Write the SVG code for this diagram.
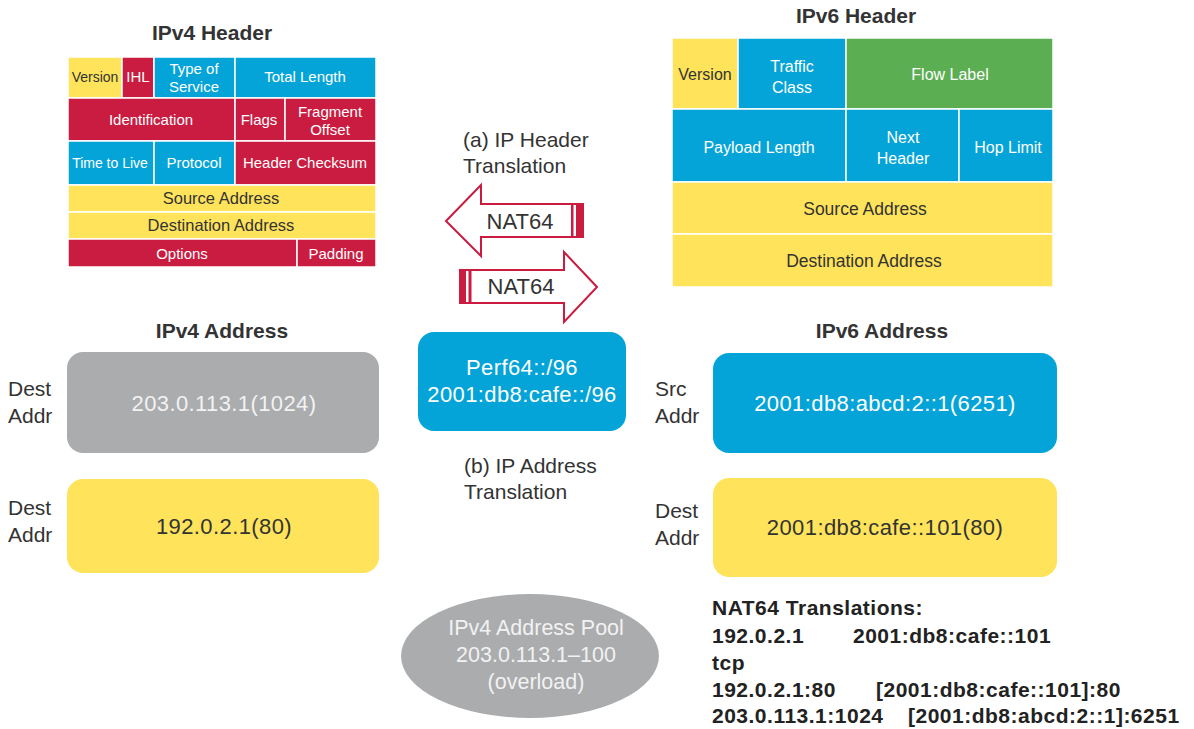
<svg xmlns="http://www.w3.org/2000/svg" width="1194" height="729" viewBox="0 0 1194 729">
<style>
text{font-family:"Liberation Sans",Arial,sans-serif}
.y{fill:#FEE35B}.r{fill:#CA1C40}.b{fill:#04A4D8}.g{fill:#5BAE52}
.cell{stroke:#fff;stroke-width:1.5}
.ct{font-size:15px;text-anchor:middle;fill:#fff}
.cd{font-size:15px;text-anchor:middle;fill:#333}
.c6{font-size:16px;text-anchor:middle;fill:#fff}
.c6d{font-size:16px;text-anchor:middle;fill:#333}
.big4{font-size:16.5px}
.big6{font-size:17.5px}
.title{font-size:21px;font-weight:bold;text-anchor:middle;fill:#333}
.lbl{font-size:21px;fill:#333}
.addr{font-size:22px;text-anchor:middle;letter-spacing:0.4px}
.pool{font-size:21.5px;text-anchor:middle;fill:#F2F2F2}
.arrow{fill:#fff;stroke:#CA1C40;stroke-width:2}
.band{fill:#CA1C40}
.nat{font-size:22px;text-anchor:middle;fill:#333}
.tr{font-size:21px;font-weight:bold;fill:#222;letter-spacing:0.5px}
</style>

<g id="ipv4-header">
<text class="title" x="212" y="40">IPv4 Header</text>
<rect class="cell y" x="68" y="57" width="54" height="41"/>
<rect class="cell r" x="122" y="57" width="32" height="41"/>
<rect class="cell b" x="154" y="57" width="81" height="41"/>
<rect class="cell b" x="235" y="57" width="141" height="41"/>
<text class="cd" x="95" y="82" style="font-size:14px">Version</text>
<text class="ct" x="138" y="82">IHL</text>
<text class="ct" x="194" y="74">Type of</text>
<text class="ct" x="194" y="92">Service</text>
<text class="ct" x="305" y="82">Total Length</text>

<rect class="cell r" x="68" y="98" width="167" height="43"/>
<rect class="cell r" x="235" y="98" width="50" height="43"/>
<rect class="cell r" x="285" y="98" width="91" height="43"/>
<text class="ct" x="151" y="125">Identification</text>
<text class="ct" x="259" y="125">Flags</text>
<text class="ct" x="330" y="117">Fragment</text>
<text class="ct" x="330" y="135">Offset</text>

<rect class="cell b" x="68" y="141" width="86" height="44"/>
<rect class="cell b" x="154" y="141" width="81" height="44"/>
<rect class="cell r" x="235" y="141" width="141" height="44"/>
<text class="ct" x="110" y="168" style="font-size:14px">Time to Live</text>
<text class="ct" x="194" y="168">Protocol</text>
<text class="ct" x="305" y="168">Header Checksum</text>

<rect class="cell y" x="68" y="185" width="308" height="27"/>
<text class="cd big4" x="221" y="204">Source Address</text>
<rect class="cell y" x="68" y="212" width="308" height="27"/>
<text class="cd big4" x="221" y="231">Destination Address</text>
<rect class="cell r" x="68" y="239" width="229" height="28"/>
<rect class="cell r" x="297" y="239" width="79" height="28"/>
<text class="ct" x="182" y="259">Options</text>
<text class="ct" x="336" y="259">Padding</text>
</g>

<g id="ipv6-header">
<text class="title" x="856" y="23">IPv6 Header</text>
<rect class="cell y" x="672" y="38" width="66" height="71"/>
<rect class="cell b" x="738" y="38" width="108" height="71"/>
<rect class="cell g" x="846" y="38" width="207" height="71"/>
<text class="c6d" x="705" y="80">Version</text>
<text class="c6" x="792" y="72">Traffic</text>
<text class="c6" x="792" y="93">Class</text>
<text class="c6" x="950" y="80">Flow Label</text>

<rect class="cell b" x="672" y="109" width="174" height="73"/>
<rect class="cell b" x="846" y="109" width="113" height="73"/>
<rect class="cell b" x="959" y="109" width="94" height="73"/>
<text class="c6" x="759" y="153">Payload Length</text>
<text class="c6" x="903" y="143">Next</text>
<text class="c6" x="903" y="164">Header</text>
<text class="c6" x="1008" y="153">Hop Limit</text>

<rect class="cell y" x="672" y="182" width="381" height="52"/>
<text class="c6d big6" x="865" y="215">Source Address</text>
<rect class="cell y" x="672" y="234" width="381" height="53"/>
<text class="c6d big6" x="864" y="267">Destination Address</text>
</g>

<g id="header-translation">
<text class="lbl" x="463" y="147">(a) IP Header</text>
<text class="lbl" x="463" y="173">Translation</text>
</g>

<g id="nat64-left">
<path class="arrow" d="M446,221 L481,185 L481,204 L583,204 L583,237 L481,237 L481,256 Z"/>
<rect class="band" x="571" y="204" width="2.5" height="33"/>
<rect class="band" x="576" y="204" width="7" height="33"/>
<text class="nat" x="520" y="229">NAT64</text>
</g>

<g id="nat64-right">
<path class="arrow" d="M597,287 L564,252 L564,270 L460,270 L460,303 L564,303 L564,322 Z"/>
<rect class="band" x="460" y="270" width="6" height="33"/>
<rect class="band" x="468.5" y="270" width="3" height="33"/>
<text class="nat" x="521" y="294">NAT64</text>
</g>

<g id="ipv4-address">
<text class="title" x="222" y="338">IPv4 Address</text>
<text class="lbl" x="8" y="396">Dest</text>
<text class="lbl" x="8" y="423">Addr</text>
<rect x="67" y="352" width="312" height="101" rx="16" fill="#ABACAE"/>
<text class="addr" x="224" y="411" fill="#F2F2F2">203.0.113.1(1024)</text>
<text class="lbl" x="8" y="515">Dest</text>
<text class="lbl" x="8" y="542">Addr</text>
<rect x="67" y="479" width="312" height="94" rx="16" fill="#FEE35B"/>
<text class="addr" x="224" y="534" fill="#333">192.0.2.1(80)</text>
</g>

<g id="prefix">
<rect x="418" y="332" width="208" height="99" rx="16" fill="#04A4D8"/>
<text class="addr" x="522" y="375" fill="#fff">Perf64::/96</text>
<text class="addr" x="522" y="402" fill="#fff">2001:db8:cafe::/96</text>
</g>

<g id="address-translation">
<text class="lbl" x="464" y="473">(b) IP Address</text>
<text class="lbl" x="464" y="499">Translation</text>
</g>

<g id="ipv6-address">
<text class="title" x="882" y="338">IPv6 Address</text>
<text class="lbl" x="655" y="396">Src</text>
<text class="lbl" x="655" y="423">Addr</text>
<rect x="713" y="353" width="344" height="100" rx="16" fill="#04A4D8"/>
<text class="addr" x="885" y="411" fill="#fff">2001:db8:abcd:2::1(6251)</text>
<text class="lbl" x="655" y="518">Dest</text>
<text class="lbl" x="655" y="545">Addr</text>
<rect x="713" y="478" width="344" height="99" rx="16" fill="#FEE35B"/>
<text class="addr" x="885" y="535" fill="#333">2001:db8:cafe::101(80)</text>
</g>

<g id="pool">
<ellipse cx="530" cy="656" rx="129" ry="62" fill="#ABACAE"/>
<text class="pool" x="536" y="635">IPv4 Address Pool</text>
<text class="pool" x="536" y="662">203.0.113.1–100</text>
<text class="pool" x="536" y="689">(overload)</text>
</g>

<g id="translations">
<text class="tr" x="712" y="615">NAT64 Translations:</text>
<text class="tr" x="712" y="643">192.0.2.1</text>
<text class="tr" x="853" y="643">2001:db8:cafe::101</text>
<text class="tr" x="712" y="670">tcp</text>
<text class="tr" x="712" y="697">192.0.2.1:80</text>
<text class="tr" x="876" y="697">[2001:db8:cafe::101]:80</text>
<text class="tr" x="712" y="723">203.0.113.1:1024</text>
<text class="tr" x="908" y="723">[2001:db8:abcd:2::1]:6251</text>
</g>
</svg>
